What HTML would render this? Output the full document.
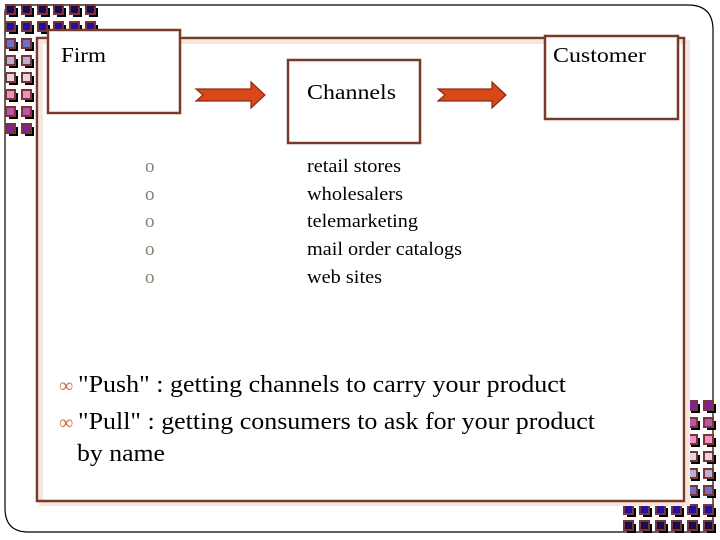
<!DOCTYPE html>
<html><head><meta charset="utf-8"><style>
body{margin:0;background:#fff;}
svg{display:block;}
text{font-family:"Liberation Serif",serif;fill:#000;}
</style></head><body>
<svg width="720" height="540" viewBox="0 0 720 540" xmlns="http://www.w3.org/2000/svg">
<path d="M12,5 L688,5 Q713,5 713,30 L713,532 L28,532 Q5,532 5,508 L5,12 Q5,5 12,5 Z" fill="none" stroke="#000" stroke-width="1.2"/>
<g stroke="#7a3535" stroke-width="2">
<rect x="9" y="8" width="9" height="9" fill="#000" stroke="none"/><rect x="6" y="5" width="9" height="9" fill="#1a0a5a"/>
<rect x="25" y="8" width="9" height="9" fill="#000" stroke="none"/><rect x="22" y="5" width="9" height="9" fill="#1a0a5a"/>
<rect x="41" y="8" width="9" height="9" fill="#000" stroke="none"/><rect x="38" y="5" width="9" height="9" fill="#1a0a5a"/>
<rect x="57" y="8" width="9" height="9" fill="#000" stroke="none"/><rect x="54" y="5" width="9" height="9" fill="#1a0a5a"/>
<rect x="73" y="8" width="9" height="9" fill="#000" stroke="none"/><rect x="70" y="5" width="9" height="9" fill="#1a0a5a"/>
<rect x="89" y="8" width="9" height="9" fill="#000" stroke="none"/><rect x="86" y="5" width="9" height="9" fill="#1a0a5a"/>
<rect x="9" y="25" width="9" height="9" fill="#000" stroke="none"/><rect x="6" y="22" width="9" height="9" fill="#2010b0"/>
<rect x="25" y="25" width="9" height="9" fill="#000" stroke="none"/><rect x="22" y="22" width="9" height="9" fill="#2010b0"/>
<rect x="41" y="25" width="9" height="9" fill="#000" stroke="none"/><rect x="38" y="22" width="9" height="9" fill="#2010b0"/>
<rect x="57" y="25" width="9" height="9" fill="#000" stroke="none"/><rect x="54" y="22" width="9" height="9" fill="#2010b0"/>
<rect x="73" y="25" width="9" height="9" fill="#000" stroke="none"/><rect x="70" y="22" width="9" height="9" fill="#2010b0"/>
<rect x="89" y="25" width="9" height="9" fill="#000" stroke="none"/><rect x="86" y="22" width="9" height="9" fill="#2010b0"/>
<rect x="9" y="42" width="9" height="9" fill="#000" stroke="none"/><rect x="6" y="39" width="9" height="9" fill="#6a70d0"/>
<rect x="25" y="42" width="9" height="9" fill="#000" stroke="none"/><rect x="22" y="39" width="9" height="9" fill="#6a70d0"/>
<rect x="9" y="59" width="9" height="9" fill="#000" stroke="none"/><rect x="6" y="56" width="9" height="9" fill="#b8b0d8"/>
<rect x="25" y="59" width="9" height="9" fill="#000" stroke="none"/><rect x="22" y="56" width="9" height="9" fill="#b8b0d8"/>
<rect x="9" y="76" width="9" height="9" fill="#000" stroke="none"/><rect x="6" y="73" width="9" height="9" fill="#e0d8e8"/>
<rect x="25" y="76" width="9" height="9" fill="#000" stroke="none"/><rect x="22" y="73" width="9" height="9" fill="#e0d8e8"/>
<rect x="9" y="93" width="9" height="9" fill="#000" stroke="none"/><rect x="6" y="90" width="9" height="9" fill="#f090c8"/>
<rect x="25" y="93" width="9" height="9" fill="#000" stroke="none"/><rect x="22" y="90" width="9" height="9" fill="#f090c8"/>
<rect x="9" y="110" width="9" height="9" fill="#000" stroke="none"/><rect x="6" y="107" width="9" height="9" fill="#c050b8"/>
<rect x="25" y="110" width="9" height="9" fill="#000" stroke="none"/><rect x="22" y="107" width="9" height="9" fill="#c050b8"/>
<rect x="9" y="127" width="9" height="9" fill="#000" stroke="none"/><rect x="6" y="124" width="9" height="9" fill="#8020a8"/>
<rect x="25" y="127" width="9" height="9" fill="#000" stroke="none"/><rect x="22" y="124" width="9" height="9" fill="#8020a8"/>
<rect x="691" y="404" width="9" height="9" fill="#000" stroke="none"/><rect x="688" y="401" width="9" height="9" fill="#8020a8"/>
<rect x="707" y="404" width="9" height="9" fill="#000" stroke="none"/><rect x="704" y="401" width="9" height="9" fill="#8020a8"/>
<rect x="691" y="421" width="9" height="9" fill="#000" stroke="none"/><rect x="688" y="418" width="9" height="9" fill="#c050b8"/>
<rect x="707" y="421" width="9" height="9" fill="#000" stroke="none"/><rect x="704" y="418" width="9" height="9" fill="#c050b8"/>
<rect x="691" y="438" width="9" height="9" fill="#000" stroke="none"/><rect x="688" y="435" width="9" height="9" fill="#f090c8"/>
<rect x="707" y="438" width="9" height="9" fill="#000" stroke="none"/><rect x="704" y="435" width="9" height="9" fill="#f090c8"/>
<rect x="691" y="455" width="9" height="9" fill="#000" stroke="none"/><rect x="688" y="452" width="9" height="9" fill="#e0d8e8"/>
<rect x="707" y="455" width="9" height="9" fill="#000" stroke="none"/><rect x="704" y="452" width="9" height="9" fill="#e0d8e8"/>
<rect x="691" y="472" width="9" height="9" fill="#000" stroke="none"/><rect x="688" y="469" width="9" height="9" fill="#b8b0d8"/>
<rect x="707" y="472" width="9" height="9" fill="#000" stroke="none"/><rect x="704" y="469" width="9" height="9" fill="#b8b0d8"/>
<rect x="691" y="489" width="9" height="9" fill="#000" stroke="none"/><rect x="688" y="486" width="9" height="9" fill="#6a70d0"/>
<rect x="707" y="489" width="9" height="9" fill="#000" stroke="none"/><rect x="704" y="486" width="9" height="9" fill="#6a70d0"/>
<rect x="627" y="508" width="9" height="9" fill="#000" stroke="none"/><rect x="624" y="505" width="9" height="9" fill="#2010b0"/>
<rect x="643" y="508" width="9" height="9" fill="#000" stroke="none"/><rect x="640" y="505" width="9" height="9" fill="#2010b0"/>
<rect x="659" y="508" width="9" height="9" fill="#000" stroke="none"/><rect x="656" y="505" width="9" height="9" fill="#2010b0"/>
<rect x="675" y="508" width="9" height="9" fill="#000" stroke="none"/><rect x="672" y="505" width="9" height="9" fill="#2010b0"/>
<rect x="691" y="508" width="9" height="9" fill="#000" stroke="none"/><rect x="688" y="505" width="9" height="9" fill="#2010b0"/>
<rect x="707" y="508" width="9" height="9" fill="#000" stroke="none"/><rect x="704" y="505" width="9" height="9" fill="#2010b0"/>
<rect x="627" y="524" width="9" height="9" fill="#000" stroke="none"/><rect x="624" y="521" width="9" height="9" fill="#1a0a5a"/>
<rect x="643" y="524" width="9" height="9" fill="#000" stroke="none"/><rect x="640" y="521" width="9" height="9" fill="#1a0a5a"/>
<rect x="659" y="524" width="9" height="9" fill="#000" stroke="none"/><rect x="656" y="521" width="9" height="9" fill="#1a0a5a"/>
<rect x="675" y="524" width="9" height="9" fill="#000" stroke="none"/><rect x="672" y="521" width="9" height="9" fill="#1a0a5a"/>
<rect x="691" y="524" width="9" height="9" fill="#000" stroke="none"/><rect x="688" y="521" width="9" height="9" fill="#1a0a5a"/>
<rect x="707" y="524" width="9" height="9" fill="#000" stroke="none"/><rect x="704" y="521" width="9" height="9" fill="#1a0a5a"/>
</g>

<rect x="41" y="42" width="647" height="462" fill="none" stroke="#f6e6e0" stroke-width="4"/>
<rect x="37" y="38" width="647" height="463" fill="none" stroke="#7a3a2a" stroke-width="2.5"/>

<rect x="48" y="30" width="132" height="83" fill="#fff" stroke="#7a3a2a" stroke-width="2.5"/>
<rect x="545" y="36" width="133" height="83" fill="#fff" stroke="#7a3a2a" stroke-width="2.5"/>
<rect x="288" y="60" width="132" height="83" fill="#fff" stroke="#7a3a2a" stroke-width="2.5"/>

<text x="61" y="62" font-size="21" textLength="45" lengthAdjust="spacingAndGlyphs">Firm</text>
<text x="553" y="62" font-size="21" textLength="93" lengthAdjust="spacingAndGlyphs">Customer</text>
<text x="307" y="99" font-size="21" textLength="89" lengthAdjust="spacingAndGlyphs">Channels</text>

<path d="M196,89 L251,89 L251,82 L265,95 L251,108 L251,101 L196,101 L203,95 Z" fill="#d84818" stroke="#8a2a10" stroke-width="1.2"/>
<path d="M438,89 L492,89 L492,82 L506,95 L492,108 L492,101 L438,101 L445,95 Z" fill="#d84818" stroke="#8a2a10" stroke-width="1.2"/>

<g font-size="19">
<text x="145" y="172" style="fill:#8a8070">o</text>
<text x="145" y="200" style="fill:#8a8070">o</text>
<text x="145" y="227" style="fill:#8a8070">o</text>
<text x="145" y="255" style="fill:#8a8070">o</text>
<text x="145" y="283" style="fill:#8a8070">o</text>
<text x="307" y="172" textLength="94" lengthAdjust="spacingAndGlyphs">retail stores</text>
<text x="307" y="200" textLength="96" lengthAdjust="spacingAndGlyphs">wholesalers</text>
<text x="307" y="227" textLength="111" lengthAdjust="spacingAndGlyphs">telemarketing</text>
<text x="307" y="255" textLength="155" lengthAdjust="spacingAndGlyphs">mail order catalogs</text>
<text x="307" y="283" textLength="75" lengthAdjust="spacingAndGlyphs">web sites</text>
</g>

<g font-size="24">
<text x="59" y="392" style="fill:#c87040" font-size="20">&#x221E;</text>
<text x="78" y="392" textLength="488" lengthAdjust="spacingAndGlyphs">"Push" : getting channels to carry your product</text>
<text x="59" y="429" style="fill:#c87040" font-size="20">&#x221E;</text>
<text x="78" y="429" textLength="517" lengthAdjust="spacingAndGlyphs">"Pull" : getting consumers to ask for your product</text>
<text x="77" y="461" textLength="88" lengthAdjust="spacingAndGlyphs">by name</text>
</g>
</svg>
</body></html>
